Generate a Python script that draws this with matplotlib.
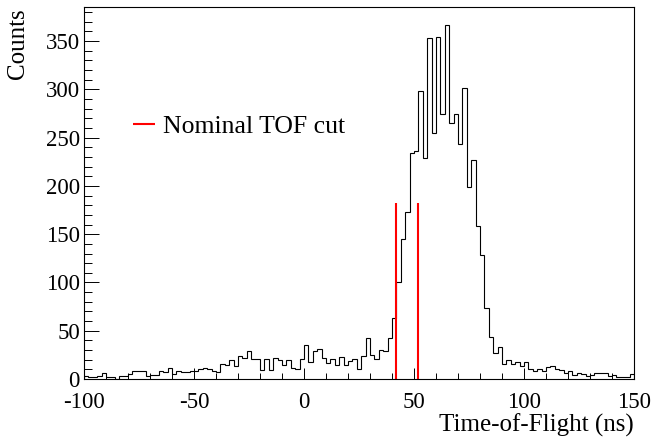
import matplotlib
matplotlib.use('Agg')
import matplotlib.pyplot as plt
import numpy as np

# histogram: 125 bins of 2 ns from -100 to 150 ns
bin_lo = -100
bin_hi = 150
bin_width = 2
counts = [
    3, 2, 2, 3, 6, 2, 2, 0, 3, 3,            # -100 .. -82
    5, 8, 8, 8, 3, 4, 4, 8, 7, 11,           # -80 .. -62
    5, 8, 7, 7, 8, 8, 10, 11, 10, 8,         # -60 .. -42
    7, 16, 15, 20, 13, 24, 22, 29, 21, 21,   # -40 .. -22
    9, 21, 9, 22, 20, 15, 20, 11, 10, 21,    # -20 .. -2
    35, 18, 29, 31, 22, 17, 21, 15, 23, 14,  # 0 .. 18
    19, 21, 10, 24, 42, 25, 21, 30, 29, 42,  # 20 .. 38
    63, 100, 145, 173, 234, 236, 298, 229, 353, 255,  # 40 .. 58
    354, 275, 367, 265, 274, 243, 301, 199, 227, 159,  # 60 .. 78
    128, 74, 44, 27, 33, 16, 20, 16, 18, 13,  # 80 .. 98
    18, 10, 8, 10, 8, 12, 13, 10, 9, 6,      # 100 .. 118
    8, 4, 6, 5, 3, 4, 6, 6, 6, 3,            # 120 .. 138
    4, 2, 2, 2, 5,                           # 140 .. 148
]

cut_positions = [42, 52]
cut_height = 182
cut_label = 'Nominal TOF cut'

edges = np.arange(bin_lo, bin_hi + bin_width, bin_width)

plt.rcParams['font.family'] = 'Liberation Serif'
plt.rcParams['font.size'] = 16
plt.rcParams['axes.unicode_minus'] = False

px = 1 / 100
fig = plt.figure(figsize=(652 * px, 438 * px), dpi=100)
ax = fig.add_axes([84 / 652, 1 - 379 / 438, 550 / 652, 372 / 438])

ax.stairs(counts, edges, color='black', linewidth=0.8, baseline=0)
ax.vlines(cut_positions, 0, cut_height, color='#ff0000', linewidth=1.5, label=cut_label)

ax.set_xlim(bin_lo, bin_hi)
ax.set_ylim(0, 1.05 * max(counts))

ax.set_xticks(np.arange(-100, 151, 50))
ax.set_xticks(np.arange(-100, 151, 10), minor=True)
ax.set_yticks(np.arange(0, 351, 50))
ax.set_yticks(np.arange(0, 381, 10), minor=True)

ax.tick_params(axis='x', which='major', direction='in', length=8, width=0.7, pad=9, labelsize=16.5)
ax.tick_params(axis='x', which='minor', direction='in', length=4, width=0.7)
ax.tick_params(axis='y', which='major', direction='in', length=11, width=0.7, pad=3, labelsize=16.5)
ax.tick_params(axis='y', which='minor', direction='in', length=5.5, width=0.7)
for s in ax.spines.values():
    s.set_linewidth(0.8)

fig.text(18 / 652, 1 - 8 / 438, 'Counts', rotation=90, ha='center', va='top', fontsize=18)
fig.text(634 / 652, 1 - 425 / 438, 'Time-of-Flight (ns)', ha='right', va='center', fontsize=18)

ax.legend(loc='center left', bbox_to_anchor=(133 / 652, 1 - 127 / 438),
          bbox_transform=fig.transFigure, frameon=False, borderpad=0,
          borderaxespad=0, handlelength=0.85, handletextpad=0.3, fontsize=18.5)

fig.savefig('out.png', dpi=100)
